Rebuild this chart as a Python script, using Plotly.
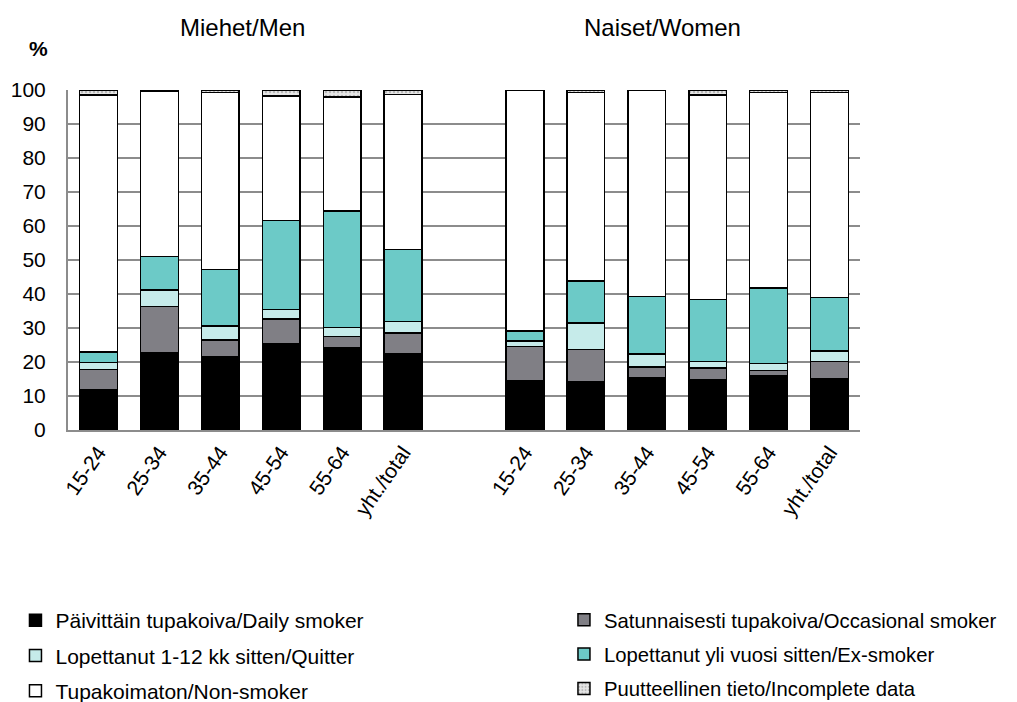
import plotly.graph_objects as go

categories = ["15-24", "25-34", "35-44", "45-54", "55-64", "yht./total"]
groups = ["Miehet/Men", "Naiset/Women"]

# values (%) per category, men then women
daily_men = [11.8, 22.7, 21.6, 25.3, 24.2, 22.3]
occasional_men = [6.0, 13.6, 4.9, 7.3, 3.3, 6.3]
quitter_men = [2.0, 4.9, 4.1, 2.9, 2.6, 3.3]
ex_men = [3.2, 9.8, 16.6, 26.1, 34.3, 21.2]
non_men = [75.5, 48.5, 52.0, 36.7, 33.6, 45.6]
incomplete_men = [1.5, 0.5, 0.8, 1.7, 2.0, 1.3]

daily_women = [14.5, 14.2, 15.4, 14.9, 16.1, 15.2]
occasional_women = [10.0, 9.5, 3.2, 3.4, 1.4, 4.9]
quitter_women = [1.7, 7.7, 3.7, 1.8, 2.1, 3.2]
ex_women = [2.9, 12.4, 16.9, 18.3, 22.1, 15.6]
non_women = [70.9, 55.4, 60.8, 60.1, 57.6, 60.3]
incomplete_women = [0.0, 0.8, 0.0, 1.5, 0.7, 0.8]

series_names = [
    "Päivittäin tupakoiva/Daily smoker",
    "Satunnaisesti tupakoiva/Occasional smoker",
    "Lopettanut 1-12 kk sitten/Quitter",
    "Lopettanut yli vuosi sitten/Ex-smoker",
    "Tupakoimaton/Non-smoker",
    "Puutteellinen tieto/Incomplete data",
]
men = [daily_men, occasional_men, quitter_men, ex_men, non_men, incomplete_men]
women = [daily_women, occasional_women, quitter_women, ex_women, non_women, incomplete_women]
colors = ["#000000", "#807f85", "#c6ebea", "#6ccac7", "#ffffff", "#d8d8d8"]
legend_ids = ["legend", "legend2", "legend", "legend2", "legend", "legend2"]

x_men = list(range(len(categories)))
x_women = [i + len(categories) + 1 for i in range(len(categories))]
xs = x_men + x_women
ticktext = categories + categories

fig = go.Figure()
for i, (name, m, w, c, lg) in enumerate(zip(series_names, men, women, colors, legend_ids)):
    marker = dict(color=c, line=dict(color="#000000", width=1.5))
    if name.startswith("Puutteellinen"):
        marker["pattern"] = dict(shape=".", fgcolor="#8a8a8a", bgcolor="#e6e6e6", size=4, solidity=0.3)
    fig.add_trace(go.Bar(x=xs, y=m + w, name=name, marker=marker, width=0.62,
                         legend=lg, legendgroup=f"g{i}"))

legend_common = dict(
    orientation="v", xref="container", yref="container", yanchor="top", xanchor="left",
    traceorder="grouped", tracegroupgap=5, itemwidth=30,
    bgcolor="rgba(0,0,0,0)",
)
fig.update_layout(
    barmode="stack",
    width=1009, height=694,
    margin=dict(l=60, r=157, t=82, b=272, autoexpand=False),
    paper_bgcolor="white", plot_bgcolor="white",
    font=dict(family="Liberation Sans, Arial, sans-serif", size=21, color="#000000"),
    showlegend=True,
    legend=dict(x=0.0074, y=0.147, font=dict(size=21), **legend_common),
    legend2=dict(x=0.551, y=0.147, font=dict(size=20.3), **legend_common),
    xaxis=dict(
        tickmode="array", tickvals=xs, ticktext=ticktext, tickangle=-55,
        range=[-0.5, 12.5], showgrid=False, showline=True, linecolor="#8c8c8c",
        linewidth=2, ticks="", tickfont=dict(size=21),
    ),
    yaxis=dict(
        range=[0, 100], dtick=10, showgrid=True, gridcolor="#8c8c8c", gridwidth=2,
        showline=True, linecolor="#8c8c8c", linewidth=2, ticks="",
        tickfont=dict(size=21), zeroline=False, ticklabelstandoff=16,
    ),
)
fig.add_annotation(text="<b>%</b>", xref="paper", yref="paper", x=-0.0227, y=1.1235,
                   xanchor="right", yanchor="middle", showarrow=False, font=dict(size=21))
fig.add_annotation(text=groups[0], xref="paper", yref="paper", x=0.2197, y=1.185,
                   xanchor="center", yanchor="middle", showarrow=False, font=dict(size=24))
fig.add_annotation(text=groups[1], xref="paper", yref="paper", x=0.75, y=1.185,
                   xanchor="center", yanchor="middle", showarrow=False, font=dict(size=24))

fig.write_html("out.html")
